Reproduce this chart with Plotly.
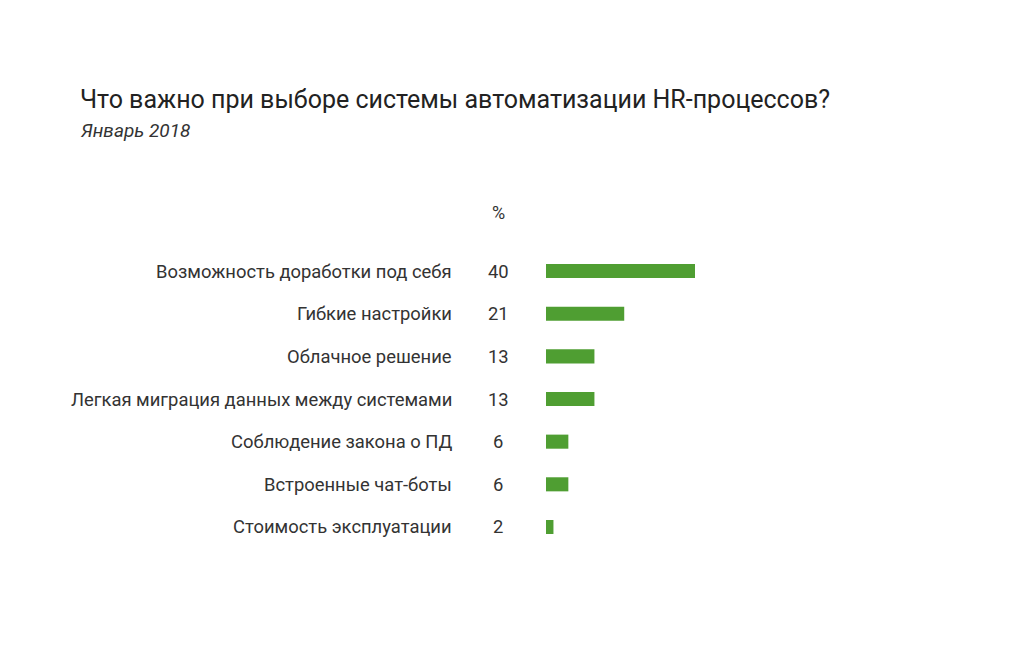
import plotly.graph_objects as go

categories = [
    "Возможность доработки под себя",
    "Гибкие настройки",
    "Облачное решение",
    "Легкая миграция данных между системами",
    "Соблюдение закона о ПД",
    "Встроенные чат-боты",
    "Стоимость эксплуатации",
]
values = [40, 21, 13, 13, 6, 6, 2]
title = "Что важно при выборе системы автоматизации HR-процессов?"
subtitle = "Январь 2018"
unit = "%"

W, H = 1024, 648
green = "#4f9e32"
txt = "#333333"
font = "Roboto"

px_per_unit = 3.725
x0_px, x1_px = 546, 921.6
top_px, bot_px = 249.7, 548.3

fig = go.Figure(go.Bar(
    x=values, y=categories, orientation="h",
    marker=dict(color=green, line=dict(width=0)),
    width=0.33, hoverinfo="skip",
))

ann = []
for c, v in zip(categories, values):
    ann.append(dict(x=454 / W, xref="paper", y=c, yref="y", text=c, showarrow=False,
                    xanchor="right", yanchor="middle", font=dict(family=font, size=18.4, color=txt)))
    ann.append(dict(x=498 / W, xref="paper", y=c, yref="y", text=str(v), showarrow=False,
                    xanchor="center", yanchor="middle", font=dict(family=font, size=18.4, color=txt)))
ann.append(dict(x=498 / W, xref="paper", y=1 - 212 / H, yref="paper", text=unit, showarrow=False,
                xanchor="center", yanchor="middle", font=dict(family=font, size=18, color=txt)))
ann.append(dict(x=78 / W, xref="paper", y=1 - 99 / H, yref="paper", text=title, showarrow=False,
                xanchor="left", yanchor="middle", font=dict(family=font, size=25, color="#222222")))
ann.append(dict(x=78 / W, xref="paper", y=1 - 130 / H, yref="paper", text="<i>" + subtitle + "</i>", showarrow=False,
                xanchor="left", yanchor="middle", font=dict(family=font, size=19, color=txt)))

fig.update_layout(
    width=W, height=H,
    margin=dict(l=0, r=0, t=0, b=0),
    paper_bgcolor="white", plot_bgcolor="white",
    showlegend=False,
    xaxis=dict(domain=[x0_px / W, x1_px / W], range=[0, (x1_px - x0_px) / px_per_unit],
               visible=False, fixedrange=True),
    yaxis=dict(domain=[1 - bot_px / H, 1 - top_px / H], range=[6.5, -0.5],
               categoryorder="array", categoryarray=categories,
               visible=False, fixedrange=True),
    annotations=ann,
)

fig.write_html("out.html", config={"displayModeBar": False})
